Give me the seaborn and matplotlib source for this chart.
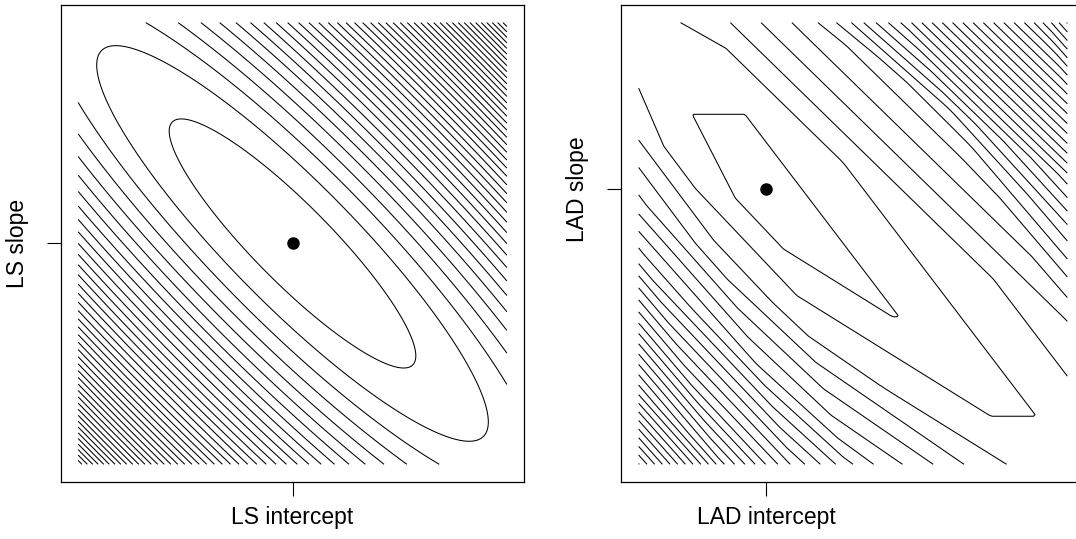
import numpy as np
import matplotlib
matplotlib.use("Agg")
import matplotlib.pyplot as plt
import seaborn as sns

# data: 16 points, a few outliers pull LS away from LAD
x = [2.34, 2.95, 3.63, 3.76, 5.61, 7.26, 8.48, 8.87,
     10.19, 11.82, 12.15, 12.29, 13.29, 13.39, 14.22, 16.96]
y = [23.50, 10.53, 9.44, 6.32, 29.84, 42.35, 38.78, 18.61,
     34.03, 51.22, 23.32, 30.72, 49.28, 37.84, 45.09, 70.77]

# half widths of the (intercept, slope) grid around the LS fit
RA = 10.0
RB = 1.0
LS_STEP = 150       # contour spacing, sum of squares
LAD_START = 146.0   # first contour, sum of absolute deviations
LAD_STEP = 5.74

sns.set_theme(style="white")
plt.rcParams['font.family'] = ['Liberation Sans', 'DejaVu Sans']

x = np.array(x)
y = np.array(y)
n = len(x)

# LS fit
b_ls, a_ls = np.polyfit(x, y, 1)

# LAD fit: best line through a pair of points
best = None
for i in range(n):
    for j in range(i + 1, n):
        b = (y[j] - y[i]) / (x[j] - x[i])
        a = y[i] - b * x[i]
        s = np.abs(y - a - b * x).sum()
        if best is None or s < best[0]:
            best = (s, a, b)
a_lad, b_lad = best[1], best[2]

# loss surfaces on a grid
a_grid = np.linspace(a_ls - RA, a_ls + RA, 241)
b_grid = np.linspace(b_ls - RB, b_ls + RB, 241)
A, B = np.meshgrid(a_grid, b_grid)
res = y[None, None, :] - A[..., None] - B[..., None] * x[None, None, :]
sse = (res ** 2).sum(axis=2)
sad = np.abs(res).sum(axis=2)

fig = plt.figure(figsize=(10.76, 5.39), dpi=100)
ax1 = fig.add_axes([0.0567, 0.1058, 0.4303, 0.885])
ax2 = fig.add_axes([0.5776, 0.1058, 0.4303, 0.885])


def panel(ax, Z, levels, est, xlab, ylab):
    ax.contour(A, B, Z, levels=levels, colors="black", linewidths=0.75)
    ax.plot(est[0], est[1], "o", color="black", ms=8)
    ax.set_xlim(a_ls - 1.08 * RA, a_ls + 1.08 * RA)
    ax.set_ylim(b_ls - 1.08 * RB, b_ls + 1.08 * RB)
    ax.set_xticks([est[0]])
    ax.set_xticklabels([xlab])
    ax.set_yticks([est[1]])
    ax.set_yticklabels([ylab], rotation=90, va="center")
    ax.tick_params(direction="out", length=10.4, width=0.8, color="black",
                   labelcolor="black", labelsize=16.5, bottom=True, left=True)
    ax.tick_params(axis="x", pad=6.6)
    ax.tick_params(axis="y", pad=13)
    for sp in ax.spines.values():
        sp.set_color("black")
        sp.set_linewidth(0.9)


panel(ax1, sse, np.arange(LS_STEP, sse.max() + LS_STEP, LS_STEP),
      (a_ls, b_ls), "LS intercept", "LS slope")
panel(ax2, sad, np.arange(LAD_START, sad.max() + LAD_STEP, LAD_STEP),
      (a_lad, b_lad), "LAD intercept", "LAD slope")

fig.savefig("out.png", dpi=100)
